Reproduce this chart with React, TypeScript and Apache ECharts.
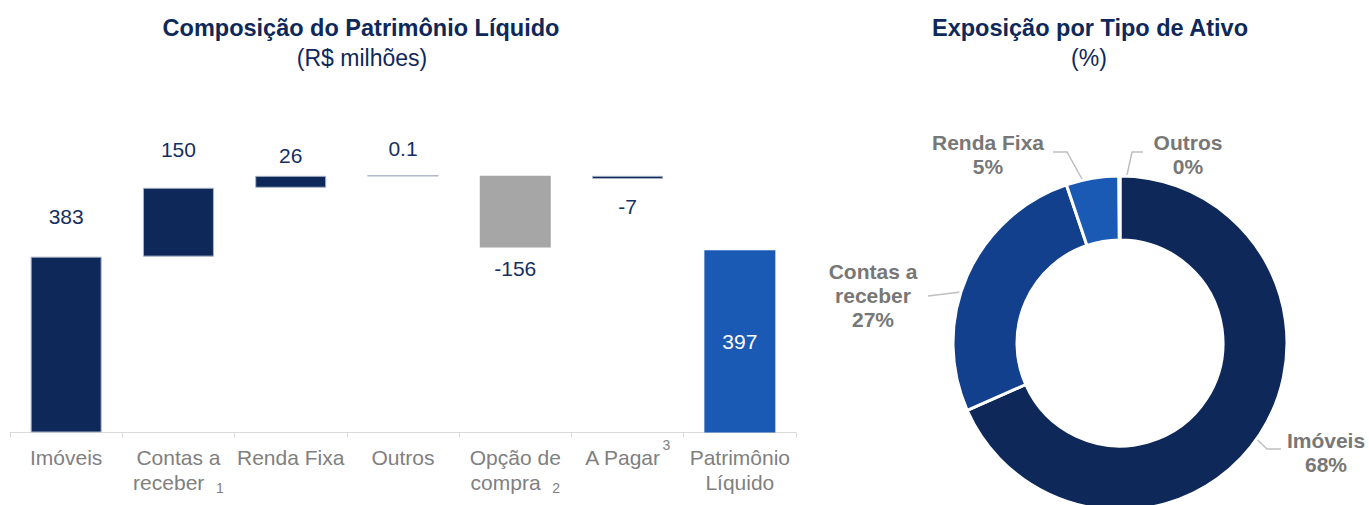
import React, { useEffect, useRef } from 'react';
import * as echarts from 'echarts';

// ---------- data ----------
const categories = ['Imóveis', 'Contas a receber', 'Renda Fixa', 'Outros', 'Opção de compra', 'A Pagar', 'Patrimônio Líquido'];
const categoryLabels = ['Imóveis', 'Contas a\nreceber  {sub|1}', 'Renda Fixa', 'Outros', 'Opção de\ncompra  {sub|2}', 'A Pagar{sup|3}', 'Patrimônio\nLíquido'];
const barBases = [0, 383, 533, 559, 403, 552, 0];
const barValues = [383, 150, 26, 0.1, 156, 7, 397];
const barLabels = ['383', '150', '26', '0.1', '-156', '-7', '397'];

const pieNames = ['Imóveis', 'Contas a receber', 'Renda Fixa', 'Outros'];
const pieLabelNames = ['Imóveis', 'Contas a\nreceber', 'Renda Fixa', 'Outros'];
const pieValues = [68.4, 26.4, 5.1, 0.1];
const pieLabels = ['68%', '27%', '5%', '0%'];

// ---------- styles ----------
const FONT = '"Liberation Sans", Arial, sans-serif';
const NAVY = '#0d2859';
const LABEL_NAVY = '#142f62';
const GRAY_BAR = '#a6a6a6';
const BLUE = '#1a5ab4';
const MID_BLUE = '#12408c';
const BORDER = '#aab4c6';
const AXIS_GRAY = '#808080';

const barFill = [NAVY, NAVY, NAVY, NAVY, GRAY_BAR, NAVY, BLUE];
const barBorder = [BORDER, BORDER, BORDER, BORDER, GRAY_BAR, BORDER, BLUE];
const labelPos = ['top', 'top', 'top', 'top', 'bottom', 'bottom', 'inside'];
const labelDist = [30, 27.5, 9.5, 16.5, 11, 17, 0];
const pieColors = [NAVY, MID_BLUE, BLUE, NAVY];

// label anchor (center x, middle y) and leader points for the donut labels
const pieLabelAnchors = [
  [1326, 452],
  [873, 295],
  [988, 154],
  [1188, 154],
];
const pieLeaders = [
  [[1234, 417], [1267, 449], [1281, 449]],
  [[995, 288], [961, 292], [928, 296]],
  [[1098, 208], [1067, 152], [1053, 152]],
  [[1120, 207], [1132, 152], [1143, 152]],
];

export default function App() {
  const ref = useRef<HTMLDivElement>(null);

  useEffect(() => {
    if (!ref.current) return;
    const chart = echarts.init(ref.current, undefined, { renderer: 'svg' });

    const option: any = {
      animation: false,
      textStyle: { fontFamily: FONT },
      graphic: [
        {
          type: 'text', x: 361, y: 28,
          style: { text: 'Composição do Patrimônio Líquido', fontSize: 23.5, fontWeight: 'bold', fontFamily: FONT, fill: NAVY, align: 'center', verticalAlign: 'middle' },
        },
        {
          type: 'text', x: 362, y: 58,
          style: { text: '(R$ milhões)', fontSize: 23, fontFamily: FONT, fill: NAVY, align: 'center', verticalAlign: 'middle' },
        },
        {
          type: 'text', x: 1090, y: 28,
          style: { text: 'Exposição por Tipo de Ativo', fontSize: 23.5, fontWeight: 'bold', fontFamily: FONT, fill: NAVY, align: 'center', verticalAlign: 'middle' },
        },
        {
          type: 'text', x: 1089, y: 58,
          style: { text: '(%)', fontSize: 23, fontFamily: FONT, fill: NAVY, align: 'center', verticalAlign: 'middle' },
        },
      ],
      grid: { left: 10, width: 786, top: 157, height: 275.5, containLabel: false, outerBoundsMode: 'none' },
      xAxis: {
        type: 'category',
        data: categories,
        axisLine: { lineStyle: { color: '#d9d9d9', width: 1 } },
        axisTick: { show: true, length: 5, lineStyle: { color: '#d9d9d9' } },
        axisLabel: {
          interval: 0,
          margin: 12,
          color: AXIS_GRAY,
          fontSize: 21,
          lineHeight: 25,
          fontFamily: FONT,
          formatter: (_v: string, i: number) => categoryLabels[i],
          rich: {
            sub: { fontSize: 14, lineHeight: 14, verticalAlign: 'bottom', color: AXIS_GRAY, fontFamily: FONT },
            sup: { fontSize: 14, lineHeight: 14, verticalAlign: 'top', padding: [-7, 0, 0, 2], color: AXIS_GRAY, fontFamily: FONT },
          },
        },
      },
      yAxis: { type: 'value', min: 0, max: 600, show: false },
      series: [
        {
          type: 'bar',
          stack: 'wf',
          silent: true,
          barWidth: 71,
          itemStyle: { color: 'transparent' },
          label: { show: false },
          data: barBases,
        },
        {
          type: 'bar',
          stack: 'wf',
          barWidth: 71,
          data: barValues.map((v, i) => ({
            value: v,
            itemStyle: { color: barFill[i], borderColor: barBorder[i], borderWidth: i === 4 || i === 6 ? 0 : 1 },
            label: {
              show: true,
              position: labelPos[i],
              distance: labelDist[i],
              color: i === 6 ? '#ffffff' : LABEL_NAVY,
            },
          })),
          label: {
            show: true,
            fontSize: 21,
            fontFamily: FONT,
            formatter: (p: any) => barLabels[p.dataIndex],
          },
        },
        {
          type: 'pie',
          center: [1120, 343],
          radius: [103, 167],
          startAngle: 90,
          clockwise: true,
          avoidLabelOverlap: false,
          itemStyle: { borderColor: '#ffffff', borderWidth: 3 },
          label: {
            show: true,
            position: 'outside',
            fontSize: 21,
            fontWeight: 'bold',
            lineHeight: 24,
            color: '#777777',
            fontFamily: FONT,
            formatter: (p: any) => pieLabelNames[p.dataIndex] + '\n' + pieLabels[p.dataIndex],
          },
          labelLine: { show: true, lineStyle: { color: '#bfbfbf', width: 1.5 } },
          labelLayout: (params: any) => {
            const i = params.dataIndex;
            return {
              x: pieLabelAnchors[i][0],
              y: pieLabelAnchors[i][1],
              align: 'center',
              verticalAlign: 'middle',
              labelLinePoints: pieLeaders[i],
            };
          },
          data: pieValues.map((v, i) => ({ name: pieNames[i], value: v, itemStyle: { color: pieColors[i] } })),
        },
      ],
    };

    chart.setOption(option);
    return () => chart.dispose();
  }, []);

  return (
    <div
      ref={ref}
      style={{ position: 'fixed', left: 0, top: 0, width: 1369, height: 505, background: '#ffffff' }}
    />
  );
}
